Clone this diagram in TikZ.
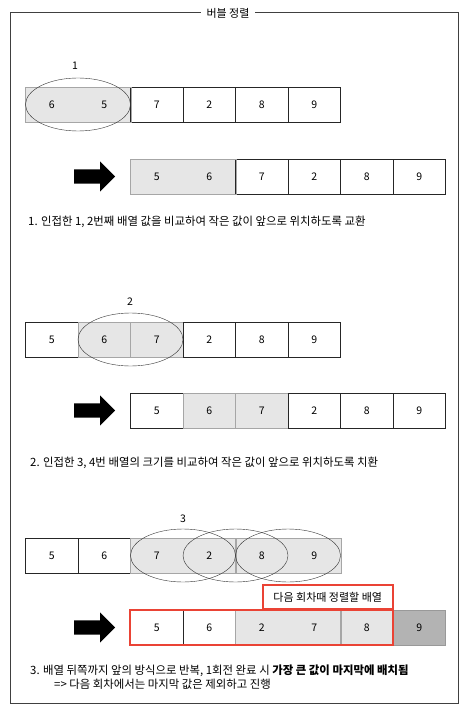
\documentclass[tikz,border=0pt]{standalone}
\usepackage{fontspec}
\setmainfont{Noto Sans CJK KR}
\usetikzlibrary{shapes.geometric,shapes.arrows}

\definecolor{cellgray}{RGB}{230,230,230}
\definecolor{lastgray}{RGB}{179,179,179}
\definecolor{markred}{RGB}{234,67,53}

\tikzset{
  cell/.style={draw=black!85, fill=white, minimum width=52.5pt, minimum height=35pt, inner sep=0pt, font=\fontsize{10.5}{12}\selectfont},
  gcell/.style={cell, draw=gray!70, fill=cellgray},
  pcell/.style={gcell, draw=cellgray},
  lcell/.style={cell, draw=gray!80, fill=lastgray},
  pairbox/.style={draw=gray!70},
  oval/.style={ellipse, draw=black!80, minimum width=105pt, minimum height=53pt, inner sep=0pt},
  bigarrow/.style={single arrow, fill=black, inner sep=0pt, inner ysep=7pt, minimum height=41pt, single arrow head extend=8pt, anchor=tail},
  note/.style={anchor=west, inner sep=0pt, font=\fontsize{11.4}{13}\selectfont}
}

\begin{document}
\begin{tikzpicture}[x=1pt, y=-1pt]
        \useasboundingbox (0,0) rectangle (469,708);

        % Frame and title
        \draw[black!75, line width=1pt] (10,13) rectangle (458,703);
        \node[fill=white, inner xsep=6pt, font=\fontsize{11}{12}\selectfont] (title) at (228,13) {버블 정렬};

        % Round 1
        \foreach \v/\s [count=\i] in {6/pcell,5/pcell,7/cell,2/cell,8/cell,9/cell}
          \node[\s] (a\i) at ({52.5*\i-0.75},104.5) {\v};
        \draw[pairbox] (a1.north west) rectangle (a2.south east);
        \node[oval] (o1) at (78,104.5) {};
        \node[font=\fontsize{10.5}{12}\selectfont] (n1) at (75,66) {1};
        \node[bigarrow] (ar1) at (74,176.5) {};
        \foreach \v/\s [count=\i] in {5/pcell,6/pcell,7/cell,2/cell,8/cell,9/cell}
          \node[\s] (b\i) at ({104.25+52.5*\i},176.5) {\v};
        \draw[pairbox] (b1.north west) rectangle (b2.south east);
        \node[note] (t1) at (28,222) {1. 인접한 1, 2번째 배열 값을 비교하여 작은 값이 앞으로 위치하도록 교환};

        % Round 2
        \foreach \v/\s [count=\i] in {5/cell,6/gcell,7/gcell,2/cell,8/cell,9/cell}
          \node[\s] (c\i) at ({52.5*\i-0.75},339.5) {\v};
        \node[oval] (o2) at (130.5,339.5) {};
        \node[font=\fontsize{10.5}{12}\selectfont] (n2) at (130,302) {2};
        \node[bigarrow] (ar2) at (74,410.5) {};
        \foreach \v/\s [count=\i] in {5/cell,6/gcell,7/gcell,2/cell,8/cell,9/cell}
          \node[\s] (d\i) at ({104.25+52.5*\i},410.5) {\v};
        \node[note] (t2) at (30,463) {2. 인접한 3, 4번 배열의 크기를 비교하여 작은 값이 앞으로 위치하도록 치환};

        % Round 3
        \foreach \v/\s [count=\i] in {5/cell,6/cell,7/pcell,2/pcell,8/pcell,9/pcell}
          \node[\s] (e\i) at ({52.5*\i-0.75},555.5) {\v};
        \draw[pairbox] (e3.north west) rectangle (e4.south east);
        \draw[pairbox] (e5.north west) rectangle (e6.south east);
        \foreach \c [count=\i] in {183,235.5,288}
          \node[oval] (o3\i) at (\c,555.5) {};
        \node[font=\fontsize{10.5}{12}\selectfont] (n3) at (183,519) {3};
        \node[bigarrow] (ar3) at (74,627.5) {};
        \foreach \v/\s [count=\i] in {5/cell,6/cell,2/pcell,7/pcell,8/gcell,9/lcell}
          \node[\s] (f\i) at ({104.25+52.5*\i},627.5) {\v};
        \draw[pairbox] (f3.north west) rectangle (f4.south east);
        \draw[markred, line width=2pt] (f1.north west) rectangle (f5.south east);
        \node[draw=markred, line width=2pt, fill=white, minimum width=130pt, minimum height=24pt, inner sep=0pt, font=\fontsize{11}{12}\selectfont] (nxt) at (327.75,597) {다음 회차때 정렬할 배열};
        \node[note] (t3) at (30,671) {3. 배열 뒤쪽까지 앞의 방식으로 반복, 1회전 완료 시 \textbf{가장 큰 값이 마지막에 배치됨}};
        \node[note] (t4) at (54,684) {=> 다음 회차에서는 마지막 값은 제외하고 진행};
    \end{tikzpicture}
\end{document}
